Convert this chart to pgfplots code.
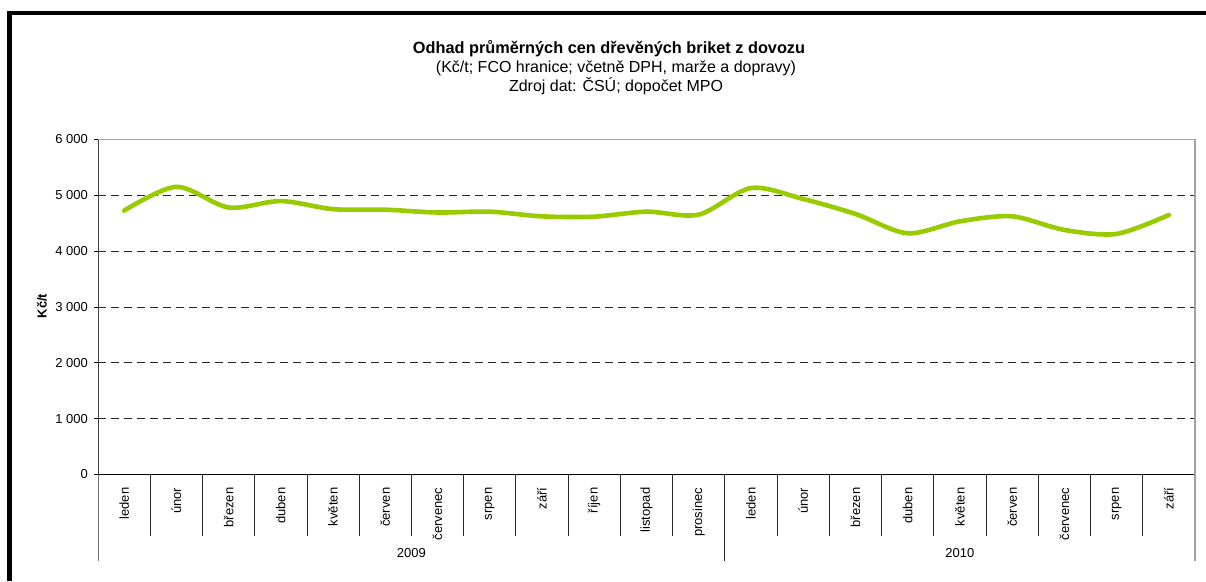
\documentclass[border=0pt]{standalone}
\usepackage{pgfplots}
\pgfplotsset{compat=1.18}
\usepackage{fontspec}
\setmainfont{Liberation Sans}
\definecolor{linegreen}{RGB}{153,204,0}
\definecolor{framegray}{RGB}{160,160,160}
\begin{document}
\begin{tikzpicture}
\useasboundingbox (0pt,0pt) rectangle (1206pt,-581pt);
\fill[white] (0pt,0pt) rectangle (1206pt,-581pt);
% outer frame (cropped at right and bottom)
\draw[line width=4.6pt, black] (9.7pt,-581pt) -- (9.7pt,-13pt) -- (1206pt,-13pt);
% titles
\node[anchor=base, font=\fontsize{16.3}{16}\selectfont\bfseries] at (609pt,-53.5pt) {Odhad průměrných cen dřevěných briket z dovozu};
\node[anchor=base, font=\fontsize{16}{16}\selectfont] at (616pt,-72.5pt) {(Kč/t; FCO hranice; včetně DPH, marže a dopravy)};
\node[anchor=base, font=\fontsize{16}{16}\selectfont] at (616pt,-91.5pt) {Zdroj dat: ČSÚ; dopočet MPO};
% y label
\node[rotate=90, font=\fontsize{13}{13}\selectfont\bfseries] at (42pt,-306pt) {Kč/t};
\begin{axis}[
  at={(98pt,-474.5pt)}, anchor=south west,
  width=1097pt, height=335.2pt, scale only axis,
  xmin=-0.5, xmax=20.5, ymin=0, ymax=6000,
  axis lines*=left,
  x axis line style={black, line width=0.9pt},
  y axis line style={black!75, line width=0.9pt},
  tick align=outside,
  major tick length=4.5pt,
  xtick={0,1,...,20},
  xticklabels={leden,únor,březen,duben,květen,červen,červenec,srpen,září,říjen,listopad,prosinec,leden,únor,březen,duben,květen,červen,červenec,srpen,září},
  xtick style={draw=none},
  xticklabel style={yshift=-8.5pt, rotate=90, anchor=east, inner sep=0pt, font=\fontsize{13}{13}\selectfont},
  ytick={0,1000,...,6000},
  yticklabels={0,1 000,2 000,3 000,4 000,5 000,6 000},
  ytick style={draw=black, line width=0.8pt},
  yticklabel style={font=\fontsize{13}{13}\selectfont, inner sep=0pt, xshift=-5.5pt},
  ymajorgrids,
  major grid style={black!85, line width=0.8pt, dash pattern=on 8pt off 5pt},
  clip=false,
]
\addplot[linegreen, line width=4.6pt, smooth, tension=0.5, line cap=round] coordinates {
 (0,4723) (1,5150) (2,4780) (3,4895) (4,4750) (5,4740) (6,4690) (7,4705) (8,4621) (9,4616) (10,4705) (11,4652)
 (12,5128) (13,4932) (14,4664) (15,4318) (16,4532) (17,4621) (18,4378) (19,4307) (20,4646)
};
% top and right frame of plot area
\draw[framegray, line width=1.6pt] (rel axis cs:0,1) -- (rel axis cs:1,1) -- (rel axis cs:1,0);
% category dividers
\pgfplotsinvokeforeach{0.5,1.5,2.5,3.5,4.5,5.5,6.5,7.5,8.5,9.5,10.5,12.5,13.5,14.5,15.5,16.5,17.5,18.5,19.5}{
  \draw[black!85, line width=0.9pt] (axis cs:#1,0) -- ([yshift=-61pt]axis cs:#1,0);
}
\pgfplotsinvokeforeach{11.5}{
  \draw[black!85, line width=0.9pt] (axis cs:#1,0) -- ([yshift=-86.5pt]axis cs:#1,0);
}
\draw[black!55, line width=0.9pt] (axis cs:-0.5,0) -- ([yshift=-86.5pt]axis cs:-0.5,0);
\draw[framegray, line width=1.6pt] (axis cs:20.5,0) -- ([yshift=-86.5pt]axis cs:20.5,0);
% year labels
\node[font=\fontsize{13}{13}\selectfont] at ([yshift=-78.5pt]axis cs:5.5,0) {2009};
\node[font=\fontsize{13}{13}\selectfont] at ([yshift=-78.5pt]axis cs:16,0) {2010};
\end{axis}
\end{tikzpicture}
\end{document}
